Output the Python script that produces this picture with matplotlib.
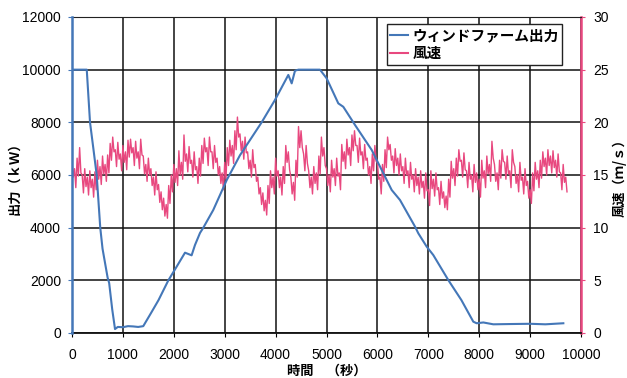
# wind farm output vs wind speed, recreated from a scanned chart

import matplotlib
matplotlib.use("Agg")
import matplotlib.pyplot as plt
import numpy as np

# --- data ---

# wind farm output (kW), breakpoints of the blue line
power_time = [0, 290, 354, 420, 485, 555, 600, 700, 730, 790, 845, 900, 1000,
              1100, 1200, 1300, 1400, 1550, 1700, 1893, 2050, 2220, 2350, 2416,
              2515, 2580, 2775, 3040, 3300, 3726, 3988, 4250, 4316, 4381, 4447,
              4872, 5003, 5232, 5330, 5560, 5888, 6117, 6281, 6444, 6739, 6804,
              6968, 7098, 7393, 7650, 7884, 7950, 8081, 8277, 8600, 9000, 9300,
              9653]
power_kw = [10000, 10000, 8000, 7000, 6000, 4000, 3200, 2100, 1900, 900, 150,
            230, 220, 260, 250, 230, 260, 750, 1250, 2000, 2500, 3050, 2950,
            3340, 3800, 4000, 4670, 5810, 6750, 8000, 8850, 9800, 9480, 9960,
            10000, 10000, 9670, 8720, 8590, 7900, 6950, 6065, 5430, 5050, 4040,
            3785, 3280, 2960, 2010, 1250, 430, 370, 400, 330, 340, 350, 330,
            370]

# wind speed (m/s): upper and lower edge of the noisy trace in each 50 s slot
wind_step = 50
wind_high = [
    16.3, 15.6, 16.6, 17.6, 15.0, 15.6, 14.8, 15.4, 14.6, 15.3,
    16.4, 15.8, 16.8, 16.0, 16.9, 18.0, 18.6, 17.4, 18.1, 17.0,
    17.8, 17.2, 18.3, 18.4, 17.6, 18.2, 17.2, 18.4, 16.8, 16.0,
    16.6, 15.6, 14.8, 15.3, 14.1, 13.4, 12.8, 12.2, 14.0, 15.0,
    16.0, 15.6, 17.3, 16.2, 18.8, 17.0, 17.7, 16.4, 17.2, 15.8,
    16.6, 17.8, 18.5, 17.6, 18.6, 17.2, 17.8, 16.6, 15.8, 15.2,
    16.2, 17.6, 18.3, 17.8, 19.2, 20.5, 18.9, 18.2, 18.6, 17.2,
    16.4, 17.4, 16.0, 14.8, 13.8, 13.3, 12.6, 14.0, 15.4, 14.8,
    16.6, 15.4, 14.8, 15.8, 17.8, 17.2, 14.8, 14.3, 16.4, 19.6,
    19.2, 17.0, 17.8, 15.4, 14.8, 15.8, 15.2, 16.8, 18.6, 17.6,
    15.6, 15.0, 16.4, 15.6, 16.6, 15.2, 17.9, 17.2, 18.4, 17.6,
    18.8, 19.2, 17.8, 18.5, 17.2, 17.9, 16.6, 15.8, 17.0, 17.8,
    16.2, 14.8, 16.0, 17.4, 18.6, 17.9, 16.8, 17.5, 16.6, 17.0,
    15.8, 16.6, 15.4, 16.2, 15.0, 15.6, 14.8, 15.4, 14.4, 15.2,
    13.6, 15.4, 14.6, 15.2, 13.8, 14.4, 13.4, 13.0, 14.6, 16.3,
    15.6, 16.6, 17.4, 16.4, 17.1, 15.4, 16.2, 15.0, 16.0, 15.2,
    14.6, 16.4, 15.4, 16.8, 16.0, 18.2, 16.0, 15.2, 16.4, 17.4,
    16.2, 16.8, 15.4, 17.4, 15.8, 15.0, 16.2, 14.8, 15.6, 14.4,
    13.6, 15.2, 16.2, 15.4, 16.4, 17.2, 16.6, 17.4, 16.8, 17.3,
    16.4, 17.0, 15.2, 16.0, 14.8]
wind_low = [
    14.8, 13.8, 14.9, 15.2, 13.3, 13.9, 13.1, 13.8, 12.9, 13.6,
    14.6, 14.1, 15.1, 14.4, 15.2, 16.4, 17.2, 15.8, 16.5, 15.4,
    16.2, 15.5, 16.7, 17.1, 15.9, 16.6, 15.6, 16.9, 15.1, 14.4,
    15.0, 14.0, 13.1, 13.6, 12.4, 11.7, 11.1, 10.9, 12.3, 13.4,
    14.3, 14.0, 15.0, 14.6, 16.3, 15.3, 16.1, 14.8, 15.5, 14.2,
    14.9, 16.1, 17.2, 15.9, 17.2, 15.6, 16.2, 15.0, 14.2, 13.6,
    14.6, 15.9, 16.8, 16.1, 17.4, 18.6, 17.3, 16.5, 17.1, 15.6,
    14.8, 15.7, 14.4, 13.2, 12.2, 11.6, 11.2, 12.3, 13.8, 13.2,
    14.9, 13.8, 13.1, 14.2, 16.2, 15.5, 13.2, 12.6, 14.8, 17.6,
    17.6, 15.4, 16.1, 13.8, 13.2, 14.2, 13.6, 15.1, 16.8, 15.9,
    14.0, 13.4, 14.8, 14.0, 14.9, 13.6, 16.3, 15.6, 16.9, 15.9,
    17.3, 17.8, 16.2, 16.9, 15.6, 16.4, 15.0, 14.2, 15.4, 16.3,
    14.6, 13.2, 14.4, 15.7, 17.4, 16.4, 15.2, 15.9, 15.0, 15.4,
    14.2, 15.0, 13.8, 14.6, 13.4, 14.0, 13.2, 13.8, 12.8, 13.5,
    12.1, 13.7, 13.0, 13.6, 12.2, 12.8, 11.9, 11.7, 12.9, 14.7,
    14.0, 14.9, 16.3, 14.8, 15.5, 13.8, 14.6, 13.4, 14.3, 13.6,
    12.9, 14.7, 13.8, 15.1, 14.4, 16.6, 14.4, 13.6, 14.7, 16.3,
    14.6, 15.1, 13.8, 16.2, 14.2, 13.4, 14.5, 13.2, 14.0, 12.8,
    12.3, 13.5, 14.6, 13.8, 14.7, 15.8, 15.0, 15.9, 15.2, 15.7,
    14.8, 15.3, 13.6, 14.3, 13.4]

# put the two edges one after the other so the trace zigzags between them
wind_time = np.empty(2 * len(wind_high))
wind_time[0::2] = np.arange(len(wind_high)) * wind_step
wind_time[1::2] = np.arange(len(wind_low)) * wind_step + wind_step / 2
wind_speed = np.empty(2 * len(wind_high))
wind_speed[0::2] = wind_high
wind_speed[1::2] = wind_low

x_ticks = [0, 1000, 2000, 3000, 4000, 5000, 6000, 7000, 8000, 9000, 10000]
power_ticks = [0, 2000, 4000, 6000, 8000, 10000, 12000]
wind_ticks = [0, 5, 10, 15, 20, 25, 30]

blue = "#4477b8"
pink = "#e8487f"

jp_font = ["Noto Sans CJK JP", "DejaVu Sans"]
plt.rcParams["font.family"] = ["Liberation Sans", "Noto Sans CJK JP"]

fig = plt.figure(figsize=(6.27, 3.78), dpi=100)
fig.subplots_adjust(left=72/627, right=581/627, bottom=1-333/378, top=1-17/378)

# wind axis sits underneath and carries the grid; its ticks go to the right
ax_w = fig.add_subplot(111)
ax_p = ax_w.twinx()
ax_w.yaxis.tick_right()
ax_w.yaxis.set_label_position("right")
ax_p.yaxis.tick_left()
ax_p.yaxis.set_label_position("left")

ax_w.plot(wind_time, wind_speed, color=pink, lw=1.0, label="風速")
ax_p.plot(power_time, power_kw, color=blue, lw=1.5, label="ウィンドファーム出力")

ax_w.set_xlim(0, 10000)
ax_w.set_xticks(x_ticks)
ax_w.set_ylim(0, 30)
ax_w.set_yticks(wind_ticks)
ax_p.set_ylim(0, 12000)
ax_p.set_yticks(power_ticks)

ax_w.grid(True, color="#111111", lw=1.1)
ax_w.set_axisbelow(True)

# spines
for s in ["left", "right", "top", "bottom"]:
    ax_p.spines[s].set_visible(False)
ax_p.spines["left"].set_visible(True)
ax_p.spines["left"].set_color(blue)
ax_p.spines["left"].set_linewidth(1.8)
ax_w.spines["left"].set_visible(False)
ax_w.spines["right"].set_color(pink)
ax_w.spines["right"].set_linewidth(1.8)
ax_w.spines["top"].set_color("#222222")
ax_w.spines["bottom"].set_color("#111111")
ax_w.spines["bottom"].set_linewidth(1.3)

ax_w.tick_params(axis="x", length=3, labelsize=10, pad=8)
ax_w.tick_params(axis="y", length=3, color=pink, labelsize=10, pad=6)
ax_p.tick_params(axis="y", length=3, color=blue, labelsize=10, pad=5)

ax_p.set_ylabel("出力（ｋＷ）", family=jp_font, fontsize=9.5, fontweight="bold")
ax_p.yaxis.set_label_coords(-0.100, 0.5)
ax_w.set_ylabel("風速（ｍ/ｓ）", family=jp_font, fontsize=9.5, fontweight="bold", rotation=90)
ax_w.yaxis.set_label_coords(1.061, 0.5)
ax_w.set_xlabel("時間　（秒）", family=jp_font, fontsize=9.5, fontweight="bold", labelpad=1)

# legend with both series, blue first
handles = ax_p.get_lines() + ax_w.get_lines()
leg = ax_p.legend(handles, [h.get_label() for h in handles], loc="upper right",
                  bbox_to_anchor=(0.963, 0.978), fancybox=False, framealpha=1,
                  edgecolor="#222222", prop={"family": jp_font, "size": 10.5, "weight": "bold"},
                  handlelength=1.2, handletextpad=0.3, borderpad=0.25, labelspacing=0.1,
                  borderaxespad=0)
leg.get_frame().set_linewidth(1.0)
leg.legend_handles[1].set_linewidth(1.5)

fig.savefig("out.png", dpi=100)
